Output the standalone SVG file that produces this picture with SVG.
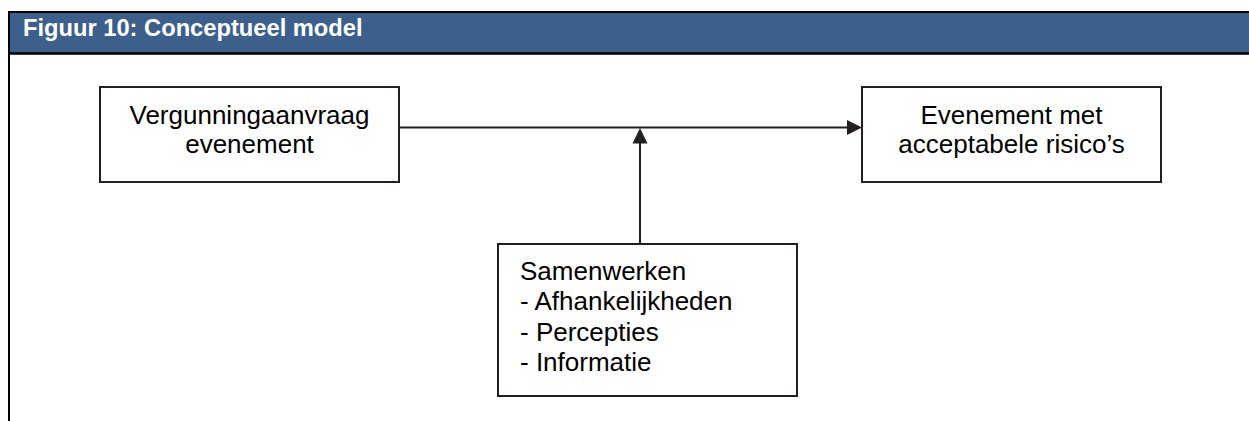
<svg xmlns="http://www.w3.org/2000/svg" width="1249" height="421" viewBox="0 0 1249 421">
<style>
.box{fill:#fff;stroke:#231f20;stroke-width:2}
.t{font-family:"Liberation Sans",Arial,sans-serif;font-size:26px;fill:#000}
.c{text-anchor:middle}
.conn{stroke:#231f20;stroke-width:2;fill:none}
.head{fill:#231f20}
</style>
<rect x="0" y="0" width="1249" height="421" fill="#fff"/>
<g id="header">
<rect x="9" y="12" width="1240" height="41" fill="#3c5f8c"/>
<line x1="8" y1="12" x2="1249" y2="12" stroke="#000" stroke-width="2"/>
<line x1="8" y1="53.5" x2="1249" y2="53.5" stroke="#000" stroke-width="2.5"/>
<line x1="9" y1="11" x2="9" y2="421" stroke="#000" stroke-width="2"/>
<text x="23" y="35.5" font-family="'Liberation Sans',Arial,sans-serif" font-size="23.7" font-weight="bold" fill="#fff">Figuur 10: Conceptueel model</text>
</g>
<g id="connectors">
<line class="conn" x1="399" y1="127.5" x2="848" y2="127.5"/>
<polygon class="head" points="862,127.5 847,120 847,135"/>
<line class="conn" x1="640" y1="244" x2="640" y2="142"/>
<polygon class="head" points="640,128 632.5,143.5 647.5,143.5"/>
</g>
<g id="node-aanvraag">
<rect class="box" x="100" y="87" width="299" height="95"/>
<text class="t c" x="249.5" y="124">Vergunningaanvraag</text>
<text class="t c" x="249.5" y="153">evenement</text>
</g>
<g id="node-evenement">
<rect class="box" x="862" y="87" width="299" height="95"/>
<text class="t c" x="1011.5" y="124">Evenement met</text>
<text class="t c" x="1011.5" y="153">acceptabele risico’s</text>
</g>
<g id="node-samenwerken">
<rect class="box" x="498" y="244" width="299" height="152"/>
<text class="t" x="520" y="279.5">Samenwerken</text>
<text class="t" x="520" y="310">- Afhankelijkheden</text>
<text class="t" x="520" y="340.5">- Percepties</text>
<text class="t" x="520" y="371">- Informatie</text>
</g>
</svg>
